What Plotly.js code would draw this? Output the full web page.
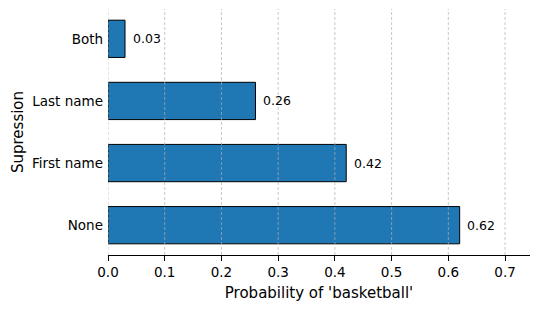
<!DOCTYPE html>
<html>
<head>
<meta charset="utf-8">
<script src="https://cdn.plot.ly/plotly-3.0.1.min.js"></script>
<style>html,body{margin:0;padding:0;background:#fff;}#chart{width:540px;height:309px;}</style>
</head>
<body>
<div id="chart"></div>
<script>
const categories = ["None", "First name", "Last name", "Both"];
const values = [0.62, 0.42, 0.26, 0.03];
const tickVals = [0, 0.1, 0.2, 0.3, 0.4, 0.5, 0.6, 0.7];
const tickText = ["0.0", "0.1", "0.2", "0.3", "0.4", "0.5", "0.6", "0.7"];

const font = "DejaVu Sans, sans-serif";
const trace = {
  type: "bar",
  orientation: "h",
  y: categories,
  x: values,
  width: 0.6,
  marker: {color: "#1f77b4", line: {color: "#000", width: 1}},
  hoverinfo: "none"
};
const annotations = values.map((v, i) => ({
  x: v + 0.01, y: categories[i], xref: "x", yref: "y",
  text: v.toFixed(2), showarrow: false, xanchor: "left", yanchor: "middle",
  font: {family: font, size: 12.5, color: "#000"}
}));
const gridShapes = tickVals.map(t => ({
  type: "line", layer: "above", xref: "x", yref: "paper",
  x0: t, x1: t, y0: 0, y1: 1,
  line: {color: "rgba(176,176,176,0.7)", width: 1, dash: "3px,2px"}
}));
const layout = {
  width: 540, height: 309,
  margin: {l: 108, r: 10, t: 9, b: 54},
  paper_bgcolor: "#fff", plot_bgcolor: "#fff",
  showlegend: false,
  font: {family: font, color: "#000"},
  xaxis: {
    range: [0, 0.744],
    tickvals: tickVals, ticktext: tickText,
    ticks: "outside", ticklen: 5, tickwidth: 1, tickcolor: "#000",
    tickfont: {size: 13.5, family: font},
    showline: true, linecolor: "#000", linewidth: 1,
    showgrid: false,
    zeroline: false,
    layer: "above traces",
    title: {text: "Probability of 'basketball'", font: {size: 15, family: font}, standoff: 8}
  },
  yaxis: {
    range: [-0.48, 3.48],
    categoryorder: "array", categoryarray: categories,
    ticks: "", showline: false, showgrid: false, zeroline: false,
    tickfont: {size: 13.5, family: font},
    ticklabelstandoff: 4,
    title: {text: "Supression", font: {size: 15, family: font}, standoff: 4}
  },
  shapes: gridShapes,
  annotations: annotations
};
Plotly.newPlot("chart", [trace], layout, {displayModeBar: false, staticPlot: true});
</script>
</body>
</html>
